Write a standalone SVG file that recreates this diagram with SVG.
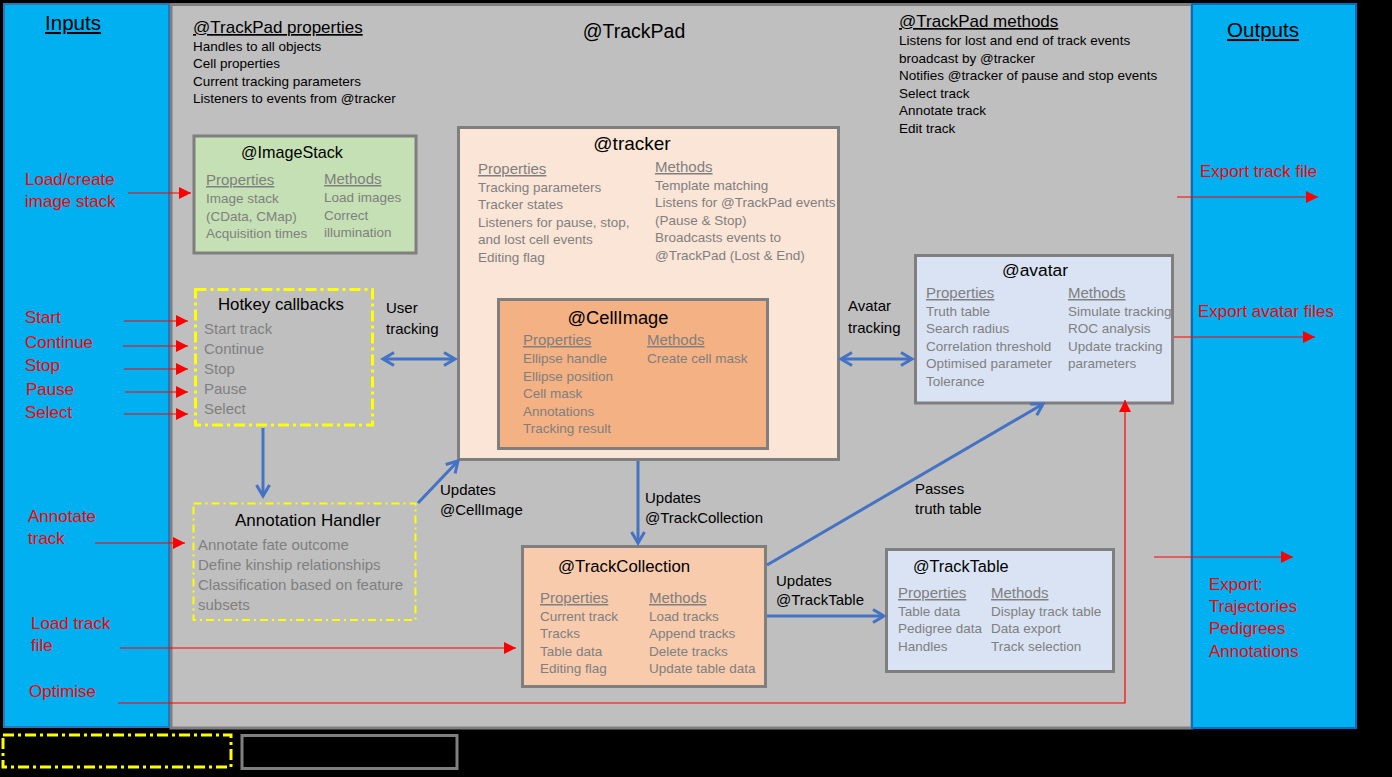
<svg xmlns="http://www.w3.org/2000/svg" width="1392" height="777" viewBox="0 0 1392 777">
<defs>
<style>
text{font-family:"Liberation Sans",Arial,sans-serif}
.b{font-size:13.5px;fill:#000}
.g{font-size:13.5px;fill:#7F7F7F}
.gl{font-size:15px;fill:#7F7F7F}
.sub{font-size:15px;fill:#7F7F7F;text-decoration:underline}
.red{font-size:17px;fill:#FF0000}
.lab{font-size:15px;fill:#000}
.box{stroke:#7F7F7F;stroke-width:3}
.ra{stroke:#FF0000;stroke-width:1.2;fill:none}
.ba{stroke:#4472C4;stroke-width:3;fill:none}
.yd{fill:none;stroke:#FFFF00;stroke-width:3;stroke-dasharray:11 4 3 4}
</style>
<marker id="rh" markerWidth="12" markerHeight="12" refX="12" refY="6" orient="auto" markerUnits="userSpaceOnUse"><path d="M0,0 L12,6 L0,12 z" fill="#FF0000"/></marker>
<marker id="bh" markerWidth="16" markerHeight="18" refX="13" refY="8" orient="auto-start-reverse" markerUnits="userSpaceOnUse"><path d="M2,1.5 L13,8 L2,14.5" fill="none" stroke="#4472C4" stroke-width="3"/></marker>
</defs>
<rect width="1392" height="777" fill="#000"/>

<g id="trackpad">
<rect x="171" y="4.5" width="1021" height="723.5" fill="#BFBFBF" stroke="#7F7F7F" stroke-width="3"/>
<text x="193" y="33" font-size="17" text-decoration="underline">@TrackPad properties</text>
<text class="b" x="193" y="51">Handles to all objects</text>
<text class="b" x="193" y="68">Cell properties</text>
<text class="b" x="193" y="86">Current tracking parameters</text>
<text class="b" x="193" y="103">Listeners to events from @tracker</text>
<text x="634" y="38" font-size="19.5" text-anchor="middle">@TrackPad</text>
<text x="899" y="27" font-size="17" text-decoration="underline">@TrackPad methods</text>
<text class="b" x="899" y="45">Listens for lost and end of track events</text>
<text class="b" x="899" y="63">broadcast by @tracker</text>
<text class="b" x="899" y="80">Notifies @tracker of pause and stop events</text>
<text class="b" x="899" y="98">Select track</text>
<text class="b" x="899" y="115">Annotate track</text>
<text class="b" x="899" y="133">Edit track</text>
</g>

<g id="inputs">
<rect x="4" y="4" width="165" height="723" fill="#00B0F0" stroke="#2E75B6" stroke-width="2"/>
<text x="73" y="30" font-size="20.5" text-anchor="middle" text-decoration="underline">Inputs</text>
<text class="red" x="25" y="185">Load/create</text>
<text class="red" x="25" y="207">image stack</text>
<text class="red" x="25" y="323">Start</text>
<text class="red" x="25" y="348">Continue</text>
<text class="red" x="25" y="371">Stop</text>
<text class="red" x="26" y="395">Pause</text>
<text class="red" x="25" y="418">Select</text>
<text class="red" x="28" y="522">Annotate</text>
<text class="red" x="28" y="544">track</text>
<text class="red" x="31" y="629">Load track</text>
<text class="red" x="31" y="651">file</text>
<text class="red" x="29" y="697">Optimise</text>
</g>

<g id="outputs">
<rect x="1192" y="4" width="164" height="724" fill="#00B0F0" stroke="#0070C0" stroke-width="2"/>
<text x="1263" y="37" font-size="20.5" text-anchor="middle" text-decoration="underline">Outputs</text>
<text class="red" x="1200" y="177">Export track file</text>
<text class="red" x="1198" y="317">Export avatar files</text>
<text class="red" x="1209" y="590">Export:</text>
<text class="red" x="1209" y="612">Trajectories</text>
<text class="red" x="1209" y="634">Pedigrees</text>
<text class="red" x="1209" y="657">Annotations</text>
</g>

<g id="imagestack">
<rect class="box" x="194" y="136" width="222" height="117" fill="#C5E0B4"/>
<text x="241" y="158" font-size="16.2">@ImageStack</text>
<text class="sub" x="206" y="185">Properties</text>
<text class="sub" x="324" y="184">Methods</text>
<text class="g" x="206" y="203">Image stack</text>
<text class="g" x="206" y="221">(CData, CMap)</text>
<text class="g" x="206" y="238">Acquisition times</text>
<text class="g" x="324" y="202">Load images</text>
<text class="g" x="324" y="220">Correct</text>
<text class="g" x="324" y="237">illumination</text>
</g>

<g id="hotkey">
<rect class="yd" x="195.5" y="289.5" width="177" height="135.5"/>
<text x="218" y="310" font-size="16.8">Hotkey callbacks</text>
<text class="gl" x="204" y="334">Start track</text>
<text class="gl" x="204" y="354">Continue</text>
<text class="gl" x="204" y="374">Stop</text>
<text class="gl" x="204" y="394">Pause</text>
<text class="gl" x="204" y="414">Select</text>
</g>

<g id="annotation">
<rect x="193.5" y="503.5" width="222" height="116.5" fill="none" stroke="#FFFF00" stroke-width="2" stroke-dasharray="8 4 2 4"/>
<text x="235" y="526" font-size="17">Annotation Handler</text>
<text class="gl" x="198" y="550">Annotate fate outcome</text>
<text class="gl" x="198" y="570">Define kinship relationships</text>
<text class="gl" x="198" y="590">Classification based on feature</text>
<text class="gl" x="198" y="610">subsets</text>
</g>

<g id="tracker">
<rect class="box" x="458.5" y="127.5" width="380" height="332" fill="#FBE5D6"/>
<text x="632" y="150" font-size="19" text-anchor="middle">@tracker</text>
<text class="sub" x="478" y="174">Properties</text>
<text class="g" x="478" y="192">Tracking parameters</text>
<text class="g" x="478" y="209">Tracker states</text>
<text class="g" x="478" y="227">Listeners for pause, stop,</text>
<text class="g" x="478" y="244">and lost cell events</text>
<text class="g" x="478" y="262">Editing flag</text>
<text class="sub" x="655" y="172">Methods</text>
<text class="g" x="655" y="190">Template matching</text>
<text class="g" x="655" y="207">Listens for @TrackPad events</text>
<text class="g" x="655" y="225">(Pause &amp; Stop)</text>
<text class="g" x="655" y="242">Broadcasts events to</text>
<text class="g" x="655" y="260">@TrackPad (Lost &amp; End)</text>
</g>

<g id="cellimage">
<rect class="box" x="498.5" y="299.5" width="269" height="149" fill="#F4B183"/>
<text x="618" y="324" font-size="18.3" text-anchor="middle">@CellImage</text>
<text class="sub" x="523" y="345">Properties</text>
<text class="g" x="523" y="363">Ellipse handle</text>
<text class="g" x="523" y="381">Ellipse position</text>
<text class="g" x="523" y="398">Cell mask</text>
<text class="g" x="523" y="416">Annotations</text>
<text class="g" x="523" y="433">Tracking result</text>
<text class="sub" x="647" y="345">Methods</text>
<text class="g" x="647" y="363">Create cell mask</text>
</g>

<g id="avatar">
<rect class="box" x="915.5" y="255.5" width="257" height="147.5" fill="#DAE3F3"/>
<text x="1035" y="276" font-size="17.4" text-anchor="middle">@avatar</text>
<text class="sub" x="926" y="298">Properties</text>
<text class="g" x="926" y="316">Truth table</text>
<text class="g" x="926" y="333">Search radius</text>
<text class="g" x="926" y="351">Correlation threshold</text>
<text class="g" x="926" y="368">Optimised parameter</text>
<text class="g" x="926" y="386">Tolerance</text>
<text class="sub" x="1068" y="298">Methods</text>
<text class="g" x="1068" y="316">Simulate tracking</text>
<text class="g" x="1068" y="333">ROC analysis</text>
<text class="g" x="1068" y="351">Update tracking</text>
<text class="g" x="1068" y="368">parameters</text>
</g>

<g id="trackcollection">
<rect class="box" x="522.5" y="546.5" width="243" height="140" fill="#F8CBAD"/>
<text x="558" y="572" font-size="16.8">@TrackCollection</text>
<text class="sub" x="540" y="603">Properties</text>
<text class="g" x="540" y="621">Current track</text>
<text class="g" x="540" y="638">Tracks</text>
<text class="g" x="540" y="656">Table data</text>
<text class="g" x="540" y="673">Editing flag</text>
<text class="sub" x="649" y="603">Methods</text>
<text class="g" x="649" y="621">Load tracks</text>
<text class="g" x="649" y="638">Append tracks</text>
<text class="g" x="649" y="656">Delete tracks</text>
<text class="g" x="649" y="673">Update table data</text>
</g>

<g id="tracktable">
<rect class="box" x="886.5" y="549.5" width="227" height="122" fill="#DAE3F3"/>
<text x="913" y="572" font-size="16.3">@TrackTable</text>
<text class="sub" x="898" y="598">Properties</text>
<text class="g" x="898" y="616">Table data</text>
<text class="g" x="898" y="633">Pedigree data</text>
<text class="g" x="898" y="651">Handles</text>
<text class="sub" x="991" y="598">Methods</text>
<text class="g" x="991" y="616">Display track table</text>
<text class="g" x="991" y="633">Data export</text>
<text class="g" x="991" y="651">Track selection</text>
</g>

<g id="legend">
<rect class="yd" x="3" y="735" width="228" height="32"/>
<rect x="242" y="735.5" width="215" height="33" fill="none" stroke="#7F7F7F" stroke-width="3"/>
</g>

<g id="connectors">
<line class="ra" x1="128" y1="193" x2="191" y2="193" marker-end="url(#rh)"/>
<line class="ra" x1="124" y1="321" x2="188" y2="321" marker-end="url(#rh)"/>
<line class="ra" x1="123" y1="346" x2="188" y2="346" marker-end="url(#rh)"/>
<line class="ra" x1="124" y1="369" x2="188" y2="369" marker-end="url(#rh)"/>
<line class="ra" x1="125" y1="392" x2="188" y2="392" marker-end="url(#rh)"/>
<line class="ra" x1="124" y1="414" x2="188" y2="414" marker-end="url(#rh)"/>
<line class="ra" x1="95" y1="543" x2="185" y2="543" marker-end="url(#rh)"/>
<line class="ra" x1="120" y1="648" x2="516" y2="648" marker-end="url(#rh)"/>
<polyline class="ra" points="118,703 1125,703 1125,400" marker-end="url(#rh)"/>
<line class="ra" x1="1177" y1="197" x2="1318" y2="197" marker-end="url(#rh)"/>
<line class="ra" x1="1174" y1="337" x2="1315" y2="337" marker-end="url(#rh)"/>
<line class="ra" x1="1154" y1="557" x2="1293" y2="557" marker-end="url(#rh)"/>

<line class="ba" x1="383" y1="359" x2="455" y2="359" marker-start="url(#bh)" marker-end="url(#bh)"/>
<text class="lab" x="386" y="313" font-size="17">User</text>
<text class="lab" x="386" y="334" font-size="17">tracking</text>
<line class="ba" x1="841" y1="359" x2="912" y2="359" marker-start="url(#bh)" marker-end="url(#bh)"/>
<text class="lab" x="848" y="311" font-size="17">Avatar</text>
<text class="lab" x="848" y="333" font-size="17">tracking</text>
<line class="ba" x1="263" y1="428" x2="263" y2="496" marker-end="url(#bh)"/>
<line class="ba" x1="418" y1="503" x2="458" y2="461" marker-end="url(#bh)"/>
<text class="lab" x="440" y="495">Updates</text>
<text class="lab" x="440" y="515">@CellImage</text>
<line class="ba" x1="638" y1="461" x2="638" y2="543" marker-end="url(#bh)"/>
<text class="lab" x="645" y="503">Updates</text>
<text class="lab" x="645" y="523">@TrackCollection</text>
<line class="ba" x1="767" y1="565" x2="1043" y2="404" marker-end="url(#bh)"/>
<text class="lab" x="915" y="494">Passes</text>
<text class="lab" x="915" y="514">truth table</text>
<line class="ba" x1="767" y1="616" x2="884" y2="616" marker-end="url(#bh)"/>
<text class="lab" x="776" y="586">Updates</text>
<text class="lab" x="776" y="605">@TrackTable</text>
</g>
</svg>
